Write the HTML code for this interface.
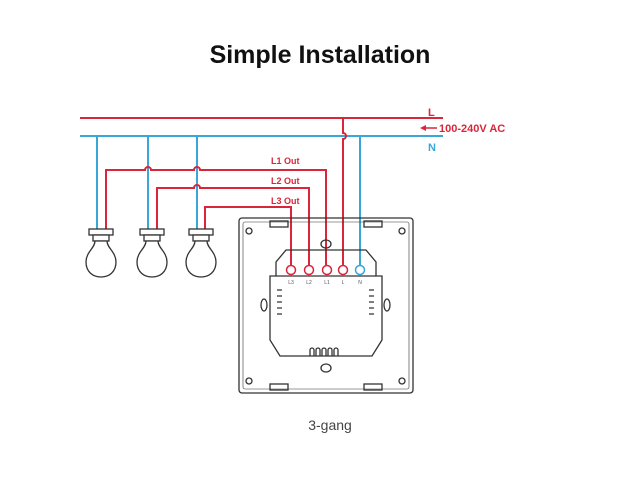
<!DOCTYPE html>
<html><head><style>
body{margin:0;background:#fff;width:640px;height:480px;overflow:hidden}
</style></head><body>
<svg width="640" height="480" xmlns="http://www.w3.org/2000/svg" font-family="Liberation Sans, sans-serif">
<text x="320" y="63" text-anchor="middle" font-size="25" font-weight="bold" fill="#111">Simple Installation</text>
<text x="330" y="430" text-anchor="middle" font-size="14" fill="#444">3-gang</text>
<g fill="none" stroke-width="2">
<line x1="80" y1="118" x2="443" y2="118" stroke="#d9263a"/>
<line x1="80" y1="136" x2="443" y2="136" stroke="#39a6d8"/>
<line x1="97" y1="136" x2="97" y2="230" stroke="#39a6d8"/>
<line x1="148" y1="136" x2="148" y2="230" stroke="#39a6d8"/>
<line x1="197" y1="136" x2="197" y2="230" stroke="#39a6d8"/>
<line x1="360" y1="136" x2="360" y2="269" stroke="#39a6d8"/>
<path d="M106 230 V170 H145 a3 3 0 0 1 6 0 H194 a3 3 0 0 1 6 0 H326 V269" stroke="#d9263a"/>
<path d="M157 230 V188 H194 a3 3 0 0 1 6 0 H309 V269" stroke="#d9263a"/>
<path d="M205 230 V207 H291 V269" stroke="#d9263a"/>
<path d="M343 118 V133 a3 3 0 0 1 0 6 V269" stroke="#d9263a"/>
</g>
<g font-size="9" font-weight="bold" fill="#d9263a">
<text x="271" y="164">L1 Out</text>
<text x="271" y="184">L2 Out</text>
<text x="271" y="204">L3 Out</text>
</g>
<text x="428" y="116" font-size="11" font-weight="bold" fill="#d9263a">L</text>
<text x="439" y="132" font-size="11" font-weight="bold" fill="#d9263a">100-240V AC</text>
<line x1="424" y1="128" x2="437" y2="128" stroke="#d9263a" stroke-width="1.5"/>
<path d="M420 128 L426 125 L426 131Z" fill="#d9263a"/>
<text x="428" y="151" font-size="11" font-weight="bold" fill="#39a6d8">N</text>
<g fill="#fff" stroke="#333" stroke-width="1.3">
<g transform="translate(101,0)"><rect x="-12" y="229" width="24" height="6"/><rect x="-8" y="235" width="16" height="6"/><path d="M-6 241 C-6 248 -15 252 -15 262 C-15 272 -8 277 0 277 C8 277 15 272 15 262 C15 252 6 248 6 241Z"/></g>
<g transform="translate(152,0)"><rect x="-12" y="229" width="24" height="6"/><rect x="-8" y="235" width="16" height="6"/><path d="M-6 241 C-6 248 -15 252 -15 262 C-15 272 -8 277 0 277 C8 277 15 272 15 262 C15 252 6 248 6 241Z"/></g>
<g transform="translate(201,0)"><rect x="-12" y="229" width="24" height="6"/><rect x="-8" y="235" width="16" height="6"/><path d="M-6 241 C-6 248 -15 252 -15 262 C-15 272 -8 277 0 277 C8 277 15 272 15 262 C15 252 6 248 6 241Z"/></g>
</g>
<g fill="none" stroke="#333" stroke-width="1.3">
<rect x="239" y="218" width="174" height="175" rx="3"/>
<rect x="243" y="222" width="166" height="167" rx="2" stroke-width="0.6"/>
<circle cx="249" cy="231" r="3"/><circle cx="402" cy="231" r="3"/>
<circle cx="249" cy="381" r="3"/><circle cx="402" cy="381" r="3"/>
<rect x="270" y="221" width="18" height="6"/><rect x="364" y="221" width="18" height="6"/>
<rect x="270" y="384" width="18" height="6"/><rect x="364" y="384" width="18" height="6"/>
<ellipse cx="326" cy="244" rx="5" ry="4"/><ellipse cx="326" cy="368" rx="5" ry="4"/>
<ellipse cx="264" cy="305" rx="3" ry="6"/><ellipse cx="387" cy="305" rx="3" ry="6"/>
<path d="M286 250 H366 L376 262 V276 H382 V340 L372 356 H280 L270 340 V276 H276 V262Z"/>
<line x1="276" y1="276" x2="376" y2="276"/>
<path d="M277 290 h5 M277 296 h5 M277 302 h5 M277 308 h5 M277 314 h5 M369 290 h5 M369 296 h5 M369 302 h5 M369 308 h5 M369 314 h5"/>
<path d="M310 356 v-6 a2 2 0 0 1 4 0 v6 M316 356 v-6 a2 2 0 0 1 4 0 v6 M322 356 v-6 a2 2 0 0 1 4 0 v6 M328 356 v-6 a2 2 0 0 1 4 0 v6 M334 356 v-6 a2 2 0 0 1 4 0 v6"/>
</g>
<g stroke-width="1.5" fill="#fff">
<circle cx="291" cy="270" r="4.5" stroke="#d9263a"/>
<circle cx="309" cy="270" r="4.5" stroke="#d9263a"/>
<circle cx="327" cy="270" r="4.5" stroke="#d9263a"/>
<circle cx="343" cy="270" r="4.5" stroke="#d9263a"/>
<circle cx="360" cy="270" r="4.5" stroke="#39a6d8"/>
</g>
<g font-size="5" fill="#555" text-anchor="middle">
<text x="291" y="284">L3</text><text x="309" y="284">L2</text><text x="327" y="284">L1</text><text x="343" y="284">L</text><text x="360" y="284">N</text>
</g>
</svg>
</body></html>
